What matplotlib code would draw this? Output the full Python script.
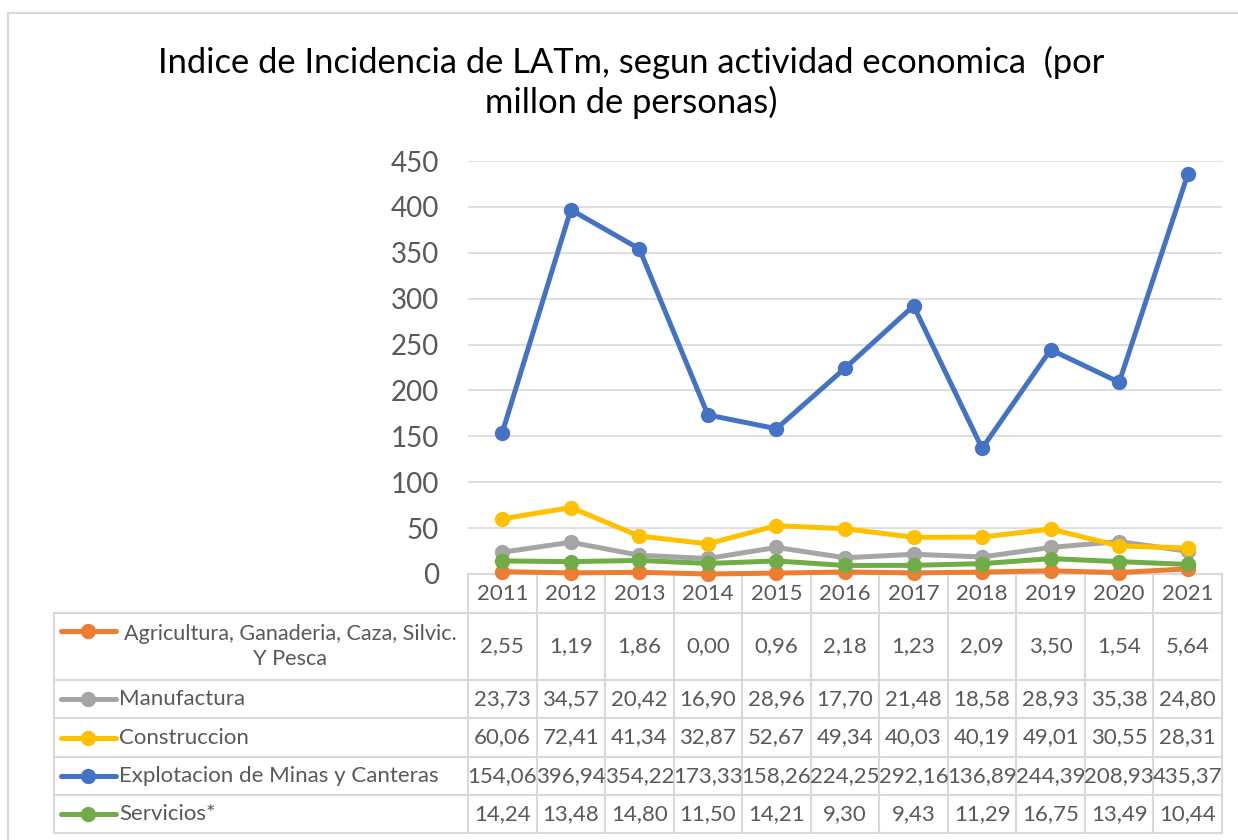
import matplotlib.pyplot as plt
from matplotlib import transforms
from matplotlib.lines import Line2D
from matplotlib.patches import Rectangle

plt.rcParams['font.family'] = ['Lato', 'DejaVu Sans']

years = ['2011', '2012', '2013', '2014', '2015', '2016', '2017', '2018', '2019', '2020', '2021']
agricultura = [2.55, 1.19, 1.86, 0.00, 0.96, 2.18, 1.23, 2.09, 3.50, 1.54, 5.64]
manufactura = [23.73, 34.57, 20.42, 16.90, 28.96, 17.70, 21.48, 18.58, 28.93, 35.38, 24.80]
construccion = [60.06, 72.41, 41.34, 32.87, 52.67, 49.34, 40.03, 40.19, 49.01, 30.55, 28.31]
explotacion = [154.06, 396.94, 354.22, 173.33, 158.26, 224.25, 292.16, 136.89, 244.39, 208.93, 435.37]
servicios = [14.24, 13.48, 14.80, 11.50, 14.21, 9.30, 9.43, 11.29, 16.75, 13.49, 10.44]

names = ['Agricultura, Ganaderia, Caza, Silvic.\nY Pesca', 'Manufactura', 'Construccion',
         'Explotacion de Minas y Canteras', 'Servicios*']
series = [agricultura, manufactura, construccion, explotacion, servicios]
colors = ['#ED7D31', '#A5A5A5', '#FFC000', '#4472C4', '#70AD47']

W, H = 1238, 840
fig = plt.figure(figsize=(W / 100, H / 100), dpi=100)


def fx(x):
    return x / W


def fy(y):
    return 1 - y / H


grid_c = '#D9D9D9'
text_c = '#595959'

# chart frame
fig.add_artist(Rectangle((fx(8), fy(860)), fx(1260) - fx(8), fy(13) - fy(860),
                         transform=fig.transFigure, fill=False, edgecolor=grid_c, lw=1.5))

fig.text(fx(631), fy(82), 'Indice de Incidencia de LATm, segun actividad economica  (por\nmillon de personas)',
         ha='center', va='center', fontsize=24.8, color='#000000', linespacing=1.25)

ax = fig.add_axes([fx(468), fy(574), fx(1222) - fx(468), fy(161) - fy(574)])
ax.set_zorder(5)
ax.patch.set_visible(False)
x = list(range(len(years)))
for vals, c in zip(series, colors):
    ax.plot(x, vals, color=c, lw=3.6, marker='o', ms=10, clip_on=False,
            solid_joinstyle='round', solid_capstyle='round')
ax.set_xlim(-0.5, 10.5)
ax.set_ylim(0, 450)
ax.set_yticks(range(0, 451, 50))
ax.yaxis.grid(True, color=grid_c, lw=1.2)
ax.set_axisbelow(True)
for s in ax.spines.values():
    s.set_visible(False)
ax.set_xticks([])
ax.tick_params(axis='y', length=0, labelsize=20, labelcolor=text_c, pad=21)

# data table
trans = transforms.blended_transform_factory(ax.transData, fig.transFigure)
rows = [574, 613, 680, 718, 757, 795, 833]

fig.add_artist(Line2D([fx(468), fx(1222)], [fy(574), fy(574)], transform=fig.transFigure, color=grid_c, lw=1.5))
for r in rows[1:]:
    fig.add_artist(Line2D([fx(54), fx(1222)], [fy(r), fy(r)], transform=fig.transFigure, color=grid_c, lw=1.5))
fig.add_artist(Line2D([fx(54), fx(54)], [fy(613), fy(833)], transform=fig.transFigure, color=grid_c, lw=1.5))
for i in range(len(years) + 1):
    fig.add_artist(Line2D([i - 0.5, i - 0.5], [fy(574), fy(833)], transform=trans, color=grid_c, lw=1.5))

for i, yr in enumerate(years):
    ax.text(i, fy((rows[0] + rows[1]) / 2), yr, transform=trans, ha='center', va='center',
            fontsize=16, color=text_c)

for k, (name, vals, c) in enumerate(zip(names, series, colors)):
    yc = (rows[k + 1] + rows[k + 2]) / 2
    for i, v in enumerate(vals):
        ax.text(i, fy(yc), '{:.2f}'.format(v).replace('.', ','), transform=trans,
                ha='center', va='center', fontsize=16, color=text_c)
    if k == 0:
        ky = 631
        fig.text(fx(290), fy(yc), name, ha='center', va='center', fontsize=15.6,
                 color=text_c, multialignment='center', linespacing=1.3)
    else:
        ky = yc
        fig.text(fx(119), fy(yc), name, ha='left', va='center', fontsize=16, color=text_c)
    fig.add_artist(Line2D([fx(61), fx(116)], [fy(ky), fy(ky)], transform=fig.transFigure,
                          color=c, lw=3.6, solid_capstyle='round'))
    fig.add_artist(Line2D([fx(88)], [fy(ky)], transform=fig.transFigure,
                          color=c, marker='o', ms=10))

fig.savefig('out.png', dpi=100)
